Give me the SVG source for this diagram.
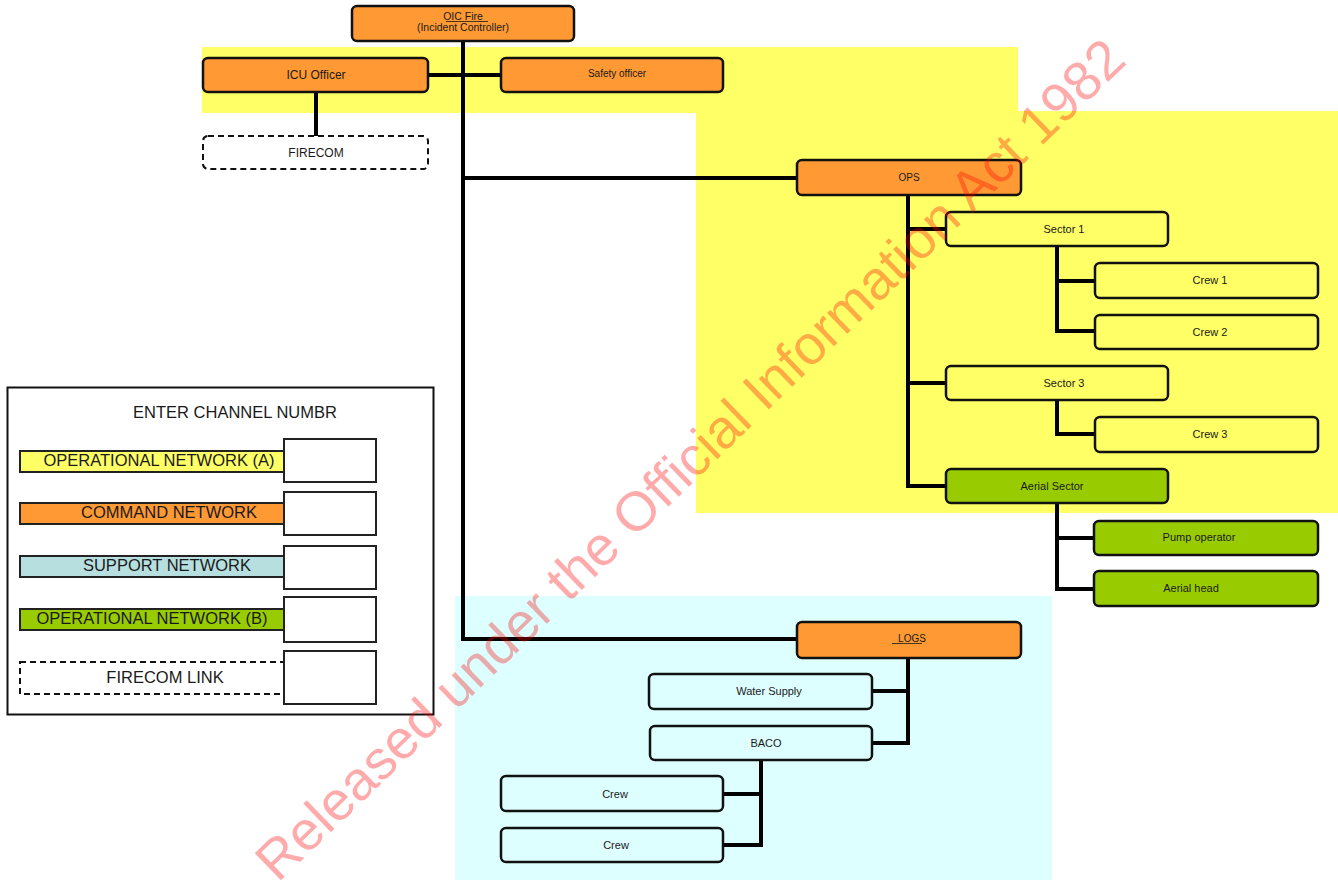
<svg xmlns="http://www.w3.org/2000/svg" width="1338" height="880" viewBox="0 0 1338 880">
<style>
text{font-family:"Liberation Sans",Arial,sans-serif;fill:#1a1a1a;text-anchor:middle}
.n{stroke:#111;stroke-width:2.5}
.or{fill:#ff9933}.ye{fill:#ffff66}.gr{fill:#99cc00}.cy{fill:#ddffff}.wh{fill:#fff}
.dash{fill:#fff;stroke:#111;stroke-width:2;stroke-dasharray:6 4}
.t{font-size:11px}
.lg{font-size:16.5px}
.c{stroke:#000;stroke-width:4;fill:none}
.lb{stroke:#222;stroke-width:2}
</style>
<rect width="1338" height="880" fill="#fff"/>
<g id="backgrounds">
<rect x="202" y="47" width="816" height="66" fill="#ffff66"/>
<rect x="696" y="111" width="642" height="402" fill="#ffff66"/>
<rect x="455" y="596" width="597" height="284" fill="#ddffff"/>
</g>
<g id="connectors">
<path class="c" d="M463 41V639H797M463 178H797M428 75H501M316 92V137"/>
<path class="c" d="M908 195V486H946M908 229H946M908 383H946"/>
<path class="c" d="M1057 247V331H1095M1057 281H1095"/>
<path class="c" d="M1057 400V434H1095"/>
<path class="c" d="M1057 503V589H1094M1057 538H1094"/>
<path class="c" d="M908 658V743H872M908 691H872"/>
<path class="c" d="M761 760V845H723M761 794H723"/>
</g>
<g id="oic"><rect class="n or" x="352" y="6" width="222" height="35" rx="5"/><text class="t" x="463" y="20" style="font-size:10.5px">OIC Fire</text><line x1="446" y1="21.5" x2="488" y2="21.5" stroke="#1a1a1a" stroke-width="0.8"/><text x="463" y="31" style="font-size:10.5px">(Incident Controller)</text></g>
<g id="icu"><rect class="n or" x="203" y="58" width="225" height="34" rx="5"/><text class="t" x="316" y="79" style="font-size:12px">ICU Officer</text></g>
<g id="firecom"><rect class="dash" x="203" y="136" width="225" height="33" rx="5"/><text x="316" y="157" style="font-size:12px">FIRECOM</text></g>
<g id="safety"><rect class="n or" x="501" y="58" width="222" height="34" rx="5"/><text class="t" x="617" y="77" style="font-size:10px">Safety officer</text></g>
<g id="ops"><rect class="n or" x="797" y="160" width="224" height="35" rx="5"/><text class="t" x="909" y="181" style="font-size:10px">OPS</text></g>
<g id="sector1"><rect class="n ye" x="946" y="212" width="222" height="34" rx="5"/><text class="t" x="1064" y="233">Sector 1</text></g>
<g id="crew1"><rect class="n ye" x="1095" y="263" width="223" height="35" rx="5"/><text class="t" x="1210" y="284">Crew 1</text></g>
<g id="crew2"><rect class="n ye" x="1095" y="315" width="223" height="34" rx="5"/><text class="t" x="1210" y="336">Crew 2</text></g>
<g id="sector3"><rect class="n ye" x="946" y="366" width="222" height="34" rx="5"/><text class="t" x="1064" y="387">Sector 3</text></g>
<g id="crew3"><rect class="n ye" x="1095" y="417" width="223" height="35" rx="5"/><text class="t" x="1210" y="438">Crew 3</text></g>
<g id="aerial"><rect class="n gr" x="946" y="469" width="222" height="34" rx="5"/><text class="t" x="1052" y="490">Aerial Sector</text></g>
<g id="pump"><rect class="n gr" x="1094" y="521" width="224" height="34" rx="5"/><text class="t" x="1199" y="541">Pump operator</text></g>
<g id="aerialhead"><rect class="n gr" x="1094" y="571" width="224" height="35" rx="5"/><text class="t" x="1191" y="592">Aerial head</text></g>
<g id="logs"><rect class="n or" x="797" y="622" width="224" height="36" rx="5"/><text class="t" x="912" y="642" style="font-size:10px">LOGS</text><line x1="892" y1="643.5" x2="922" y2="643.5" stroke="#1a1a1a" stroke-width="0.8"/></g>
<g id="water"><rect class="n cy" x="649" y="674" width="223" height="35" rx="5"/><text class="t" x="769" y="695">Water Supply</text></g>
<g id="baco"><rect class="n cy" x="650" y="726" width="222" height="34" rx="5"/><text class="t" x="766" y="747">BACO</text></g>
<g id="crewa"><rect class="n cy" x="501" y="776" width="222" height="35" rx="5"/><text class="t" x="615" y="798">Crew</text></g>
<g id="crewb"><rect class="n cy" x="501" y="828" width="222" height="34" rx="5"/><text class="t" x="616" y="849">Crew</text></g>
<g id="legend">
<rect x="7.5" y="387.5" width="426" height="327" fill="#fff" stroke="#111" stroke-width="2"/>
<text class="lg" x="235" y="418">ENTER CHANNEL NUMBR</text>
<rect class="lb" x="20" y="451" width="264" height="21" fill="#ffff66"/>
<text class="lg" x="159" y="466">OPERATIONAL NETWORK (A)</text>
<rect class="lb" x="20" y="503" width="264" height="21" fill="#ff9933"/>
<text class="lg" x="169" y="518">COMMAND NETWORK</text>
<rect class="lb" x="20" y="556" width="264" height="21" fill="#b7dfe0"/>
<text class="lg" x="167" y="571">SUPPORT NETWORK</text>
<rect class="lb" x="20" y="609" width="264" height="21" fill="#99cc00"/>
<text class="lg" x="152" y="624">OPERATIONAL NETWORK (B)</text>
<rect class="dash" x="20" y="662" width="264" height="32"/>
<text class="lg" x="165" y="683">FIRECOM LINK</text>
<rect class="lb" x="284" y="439" width="92" height="43" fill="#fff"/>
<rect class="lb" x="284" y="492" width="92" height="43" fill="#fff"/>
<rect class="lb" x="284" y="546" width="92" height="43" fill="#fff"/>
<rect class="lb" x="284" y="597" width="92" height="45" fill="#fff"/>
<rect class="lb" x="284" y="651" width="92" height="53" fill="#fff"/>
</g>
<text x="703" y="473" transform="rotate(-44 703 473)" style="font-size:55px;fill:#ff0000;fill-opacity:0.33">Released under the Official Information Act 1982</text>
</svg>
